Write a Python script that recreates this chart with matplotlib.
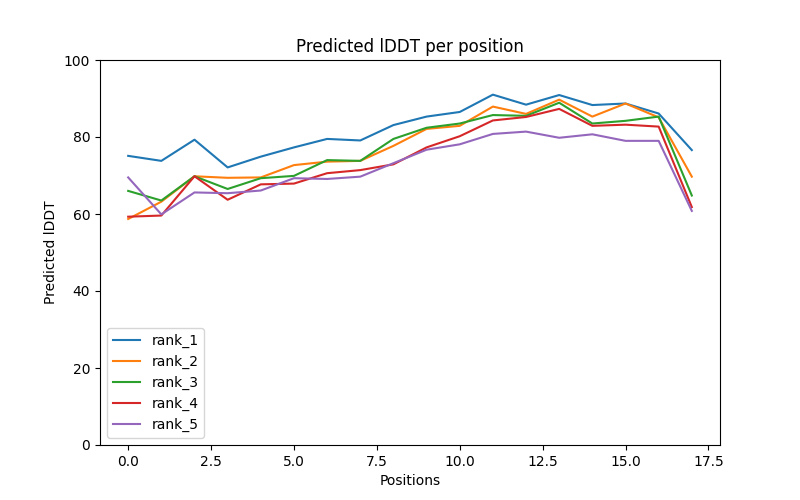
import matplotlib
matplotlib.use("Agg")
import matplotlib.pyplot as plt
import numpy as np

positions = np.arange(18)
rank_1 = [75.1, 73.8, 79.3, 72.1, 74.9, 77.3, 79.5, 79.1, 83.1, 85.3, 86.5, 91.0,
          88.4, 90.9, 88.3, 88.7, 86.1, 76.6]
rank_2 = [58.7, 63.2, 69.8, 69.4, 69.5, 72.7, 73.6, 73.8, 77.7, 82.1, 82.9, 87.9,
          86.0, 89.7, 85.3, 88.7, 85.1, 69.7]
rank_3 = [66.0, 63.5, 69.8, 66.5, 69.3, 69.9, 74.0, 73.8, 79.5, 82.4, 83.5, 85.7,
          85.5, 88.9, 83.5, 84.2, 85.3, 64.8]
rank_4 = [59.3, 59.6, 69.8, 63.7, 67.7, 67.9, 70.6, 71.4, 72.9, 77.3, 80.2, 84.3,
          85.2, 87.3, 82.9, 83.2, 82.7, 61.8]
rank_5 = [69.5, 59.9, 65.6, 65.4, 66.1, 69.3, 69.1, 69.7, 73.2, 76.7, 78.1, 80.8,
          81.4, 79.8, 80.7, 79.0, 79.0, 60.8]
series = {"rank_1": rank_1, "rank_2": rank_2, "rank_3": rank_3,
          "rank_4": rank_4, "rank_5": rank_5}

fig, ax = plt.subplots(figsize=(8, 5), dpi=100)
for name, values in series.items():
    ax.plot(positions, values, label=name)

ax.set_title("Predicted lDDT per position")
ax.set_xlabel("Positions")
ax.set_ylabel("Predicted lDDT")
ax.set_ylim(0, 100)
ax.legend(loc="lower left")

plt.savefig("out.png")
